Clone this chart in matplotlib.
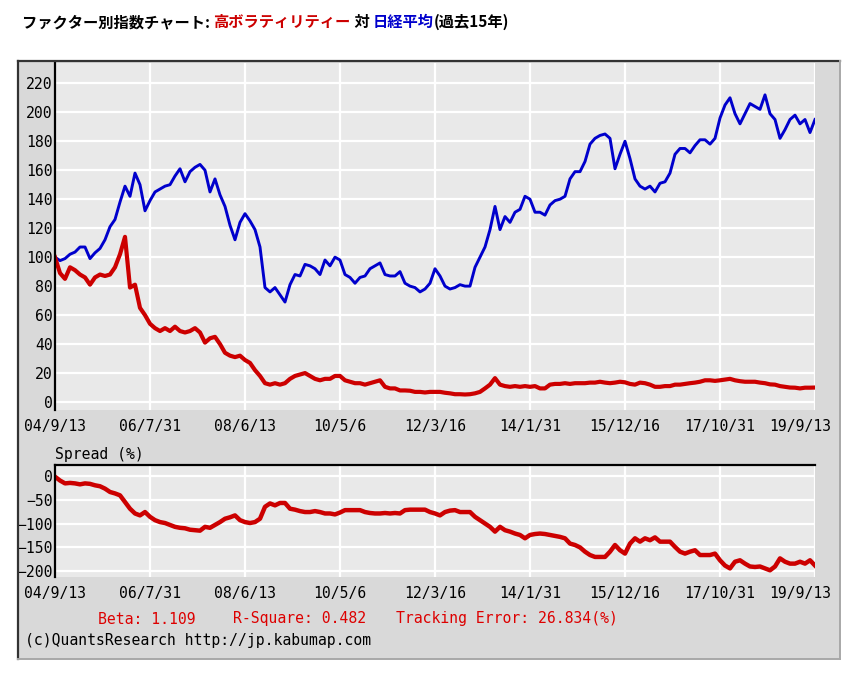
import pandas as pd
import matplotlib
matplotlib.use('Agg')
import matplotlib.pyplot as plt
from matplotlib.patches import Rectangle
from matplotlib.lines import Line2D
from matplotlib.transforms import ScaledTranslation

plt.rcParams['font.family'] = ['DejaVu Sans Mono']

# --- data (one value every ~5 px, 2004/9/13 .. 2019/9/13) ---
nikkei = [100, 97.6, 99, 102, 103.5, 107, 107, 99, 103, 106,
          112, 121, 126, 138, 149, 142, 158, 150, 132, 139,
          145, 147, 149, 150, 156, 161, 152, 159, 162, 164,
          160, 145, 154, 143, 135, 122, 112, 124, 130, 125,
          119, 107, 79, 76, 79, 74, 69, 81, 88, 87,
          95, 94, 92, 88, 98, 94, 100, 98, 88, 86,
          82, 86, 87, 92, 94, 96, 88, 87, 87, 90,
          82, 80, 79, 76, 78, 82, 92, 87, 80, 78,
          79, 81, 80, 80, 93, 100, 107, 119, 135, 119,
          128, 124, 131, 133, 142, 140, 131, 131, 129, 136,
          139, 140, 142, 154, 159, 159, 166, 178, 182, 184,
          185, 182, 161, 171, 180, 168, 154, 149, 147, 149,
          145, 151, 152, 158, 171, 175, 175, 172, 177, 181,
          181, 178, 182, 196, 205, 210, 199, 192, 199, 206,
          204, 202, 212, 199, 195, 182, 188, 195, 198, 192,
          195, 186, 195]

high_vol = [100, 89, 85, 93, 91, 88, 86, 81, 86, 88,
            87, 88, 93, 102, 114, 79, 81, 65, 60, 54,
            51, 49, 51, 49, 52, 49, 48, 49, 51, 48,
            41, 44, 45, 40, 34, 32, 31, 32, 29, 27,
            22, 18, 13, 12, 13, 12, 13, 16, 18, 19,
            20, 18, 16, 15, 16, 16, 18, 18, 15, 14,
            13, 13, 12, 13, 14, 15, 10.5, 9.4, 9.4, 8,
            8, 7.8, 7, 7, 6.6, 7, 7, 7, 6.4, 6,
            5.4, 5.4, 5.2, 5.4, 6, 7, 9.4, 12, 16.5, 12,
            11, 10.5, 11, 10.5, 11, 10.5, 11, 9.4, 9.4, 12,
            12.5, 12.5, 13, 12.5, 13, 13, 13, 13.4, 13.4, 14,
            13.4, 13, 13.4, 14, 13.6, 12.5, 12, 13.4, 13, 12,
            10.5, 10.5, 11, 11, 12, 12, 12.5, 13, 13.4, 14,
            15, 15, 14.6, 15, 15.5, 16, 15, 14.4, 14, 14,
            14, 13.4, 13, 12.2, 12, 11, 10.5, 10, 9.9, 9.4,
            9.9, 9.9, 10]

spread = [-2, -10, -16, -15, -16, -18, -16, -17, -20, -22,
          -27, -34, -37, -41, -55, -69, -79, -83, -76, -86,
          -93, -97, -99, -103, -107, -109, -110, -113, -114, -115,
          -107, -109, -103, -97, -90, -87, -83, -93, -97, -99,
          -97, -90, -65, -58, -62, -57, -57, -69, -71, -74,
          -76, -76, -74, -76, -79, -79, -81, -77, -72, -72,
          -72, -72, -76, -78, -79, -79, -78, -79, -78, -79,
          -72, -71, -71, -71, -71, -76, -79, -83, -76, -73,
          -72, -76, -76, -76, -86, -93, -100, -107, -117, -107,
          -114, -117, -121, -124, -131, -124, -122, -121, -122, -124,
          -126, -128, -131, -142, -145, -150, -159, -166, -170, -170,
          -170, -159, -145, -156, -163, -142, -131, -138, -131, -135,
          -129, -138, -138, -138, -149, -159, -163, -159, -156, -166,
          -166, -166, -163, -177, -188, -194, -180, -177, -184, -190,
          -191, -190, -194, -198, -190, -173, -180, -184, -184, -180,
          -184, -177, -188]

x_ticklabels = ['04/9/13', '06/7/31', '08/6/13', '10/5/6', '12/3/16',
                '14/1/31', '15/12/16', '17/10/31', '19/9/13']
top_yticks = list(range(0, 221, 20))
spread_yticks = [0, -50, -100, -150, -200]

start, end = '2004-09-13', '2019-09-13'
dates = pd.date_range(start, end, periods=len(nikkei))
tick_dates = pd.date_range(start, end, periods=len(x_ticklabels))

W, H = 854, 674
RED = '#cc0000'
BLUE = '#0000cc'
MONO = 10.6


def box(x0, y0, x1, y1):
    # pixel box (top-left origin) -> figure fraction rect
    return [x0 / W, 1 - y1 / H, (x1 - x0) / W, (y1 - y0) / H]


def style_axes(ax):
    ax.set_facecolor('#e9e9e9')
    for s in ax.spines.values():
        s.set_visible(False)
    ax.spines['left'].set_visible(True)
    ax.spines['left'].set_color('black')
    ax.spines['left'].set_linewidth(1.6)
    ax.grid(True, color='white', linewidth=1.6)
    ax.set_axisbelow(True)
    ax.tick_params(length=0, labelsize=MONO, colors='black')
    ax.tick_params(axis='y', pad=1.5)
    ax.tick_params(axis='x', pad=6.5)
    ax.set_xlim(dates[0], dates[-1])
    ax.set_xticks(tick_dates)
    ax.set_xticklabels(x_ticklabels)
    # last label is pulled inside the panel
    last = ax.get_xticklabels()[-1]
    last.set_transform(last.get_transform() + ScaledTranslation(-0.15, 0, fig.dpi_scale_trans))


def fline(x0, y0, x1, y1, color, lw):
    fig.add_artist(Line2D([x0 / W, x1 / W], [1 - y0 / H, 1 - y1 / H],
                          transform=fig.transFigure, color=color, linewidth=lw))


fig = plt.figure(figsize=(W / 100, H / 100), dpi=100)
fig.patch.set_facecolor('white')

# gray frame behind both charts
fig.add_artist(Rectangle((18 / W, 1 - 659 / H), 822 / W, 598 / H,
                         transform=fig.transFigure, facecolor='#d9d9d9',
                         edgecolor='none', zorder=0))

ax1 = fig.add_axes(box(55, 63, 815, 410))
style_axes(ax1)
ax1.plot(dates, nikkei, color=BLUE, linewidth=2.1)
ax1.plot(dates, high_vol, color=RED, linewidth=3.0)
ax1.set_ylim(-5.5, 234)
ax1.set_yticks(top_yticks)

ax2 = fig.add_axes(box(55, 465, 815, 577))
style_axes(ax2)
ax2.spines['top'].set_visible(True)
ax2.spines['top'].set_color('black')
ax2.spines['top'].set_linewidth(1.6)
ax2.plot(dates, spread, color=RED, linewidth=3.2)
ax2.set_ylim(-212, 22.5)
ax2.set_yticks(spread_yticks)

# frame border: dark top/left, light bottom/right
fline(18, 61, 840, 61, '#333333', 1.6)
fline(18, 61, 18, 659, '#333333', 1.6)
fline(18, 659, 840, 659, '#a8a8a8', 1.4)
fline(840, 61, 840, 659, '#a8a8a8', 1.4)

# title in coloured pieces, each placed right after the previous one
title_parts = [('ファクター別指数チャート: ', 'black'), ('高ボラティリティー', RED),
               (' 対 ', 'black'), ('日経平均', BLUE), ('(過去15年)', 'black')]
title_kw = dict(fontsize=11, fontweight='bold',
                family=['Noto Sans CJK JP', 'DejaVu Sans'])
prev = fig.text(22 / W, 1 - 27 / H, title_parts[0][0], color=title_parts[0][1],
                ha='left', va='baseline', **title_kw)
for txt, col in title_parts[1:]:
    prev = ax1.annotate(txt, xy=(1, 0), xycoords=prev, ha='left', va='bottom',
                        color=col, annotation_clip=False, **title_kw)

fig.text(55 / W, 1 - 455 / H, 'Spread (%)', fontsize=MONO, va='center', ha='left')
fig.text(98 / W, 1 - 619 / H, 'Beta: 1.109', fontsize=MONO, va='center', ha='left', color='#dd0000')
fig.text(233 / W, 1 - 619 / H, 'R-Square: 0.482', fontsize=MONO, va='center', ha='left', color='#dd0000')
fig.text(396 / W, 1 - 619 / H, 'Tracking Error: 26.834(%)', fontsize=MONO, va='center', ha='left', color='#dd0000')
fig.text(25 / W, 1 - 641 / H, '(c)QuantsResearch http://jp.kabumap.com', fontsize=MONO, va='center', ha='left')

fig.savefig('out.png', dpi=100, facecolor='white')
